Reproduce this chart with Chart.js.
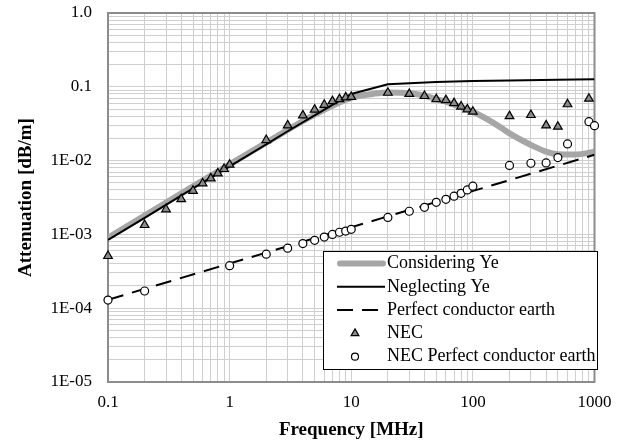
<!DOCTYPE html>
<html>
<head>
<meta charset="utf-8">
<title>Attenuation vs frequency</title>
<script src="https://cdn.jsdelivr.net/npm/chart.js@4.4.0/dist/chart.umd.min.js"></script>
<style>
  body { margin: 0; background: #fff; }
  #wrap { width: 626px; height: 445px; }
</style>
</head>
<body>
<div id="wrap"><canvas id="attChart" width="626" height="445"></canvas></div>
<script>
// data

// Considering Ye (thick gray line)
var consFreq = [0.1, 0.2, 0.5, 1, 2, 5, 10, 15, 20, 30, 40, 50, 60, 80, 100, 150, 200, 300, 400, 500, 700, 1000];
var consVal = [9.0e-4, 1.8e-3, 4.5e-3, 8.9e-3, 1.75e-2, 4.2e-2, 0.071, 0.08, 0.084, 0.082, 0.076, 0.068, 0.063, 0.053, 0.046, 0.032, 0.0234, 0.0163, 0.0132, 0.0122, 0.0121, 0.0132];

// Neglecting Ye (black line)
var negFreq = [0.1, 0.2, 0.5, 1, 2, 3, 5, 7, 10, 20, 30, 50, 100, 200, 500, 1000];
var negVal = [8.4e-4, 1.68e-3, 4.2e-3, 8.35e-3, 1.66e-2, 2.5e-2, 4.1e-2, 5.7e-2, 0.08, 0.108, 0.112, 0.116, 0.12, 0.122, 0.125, 0.127];

// Perfect conductor earth (dashed)
var pecFreq = [0.1, 1000];
var pecVal = [1.3e-4, 1.2e-2];

// NEC (triangles)
var necFreq = [0.1, 0.2, 0.3, 0.4, 0.5, 0.6, 0.7, 0.8, 0.9, 1, 2, 3, 4, 5, 6, 7, 8, 9, 10,
  20, 30, 40, 50, 60, 70, 80, 90, 100, 200, 300, 400, 500, 600, 900];
var necVal = [5.1e-4, 1.34e-3, 2.19e-3, 3.0e-3, 3.9e-3, 4.9e-3, 5.75e-3, 6.7e-3, 7.7e-3, 8.8e-3, 0.019, 0.030, 0.041, 0.049, 0.057, 0.064, 0.068, 0.072, 0.073,
  0.083, 0.080, 0.075, 0.068, 0.066, 0.060, 0.054, 0.0495, 0.046, 0.040, 0.0415, 0.030, 0.0288, 0.058, 0.069];

// NEC Perfect conductor earth (circles)
var necPecFreq = [0.1, 0.2, 1, 2, 3, 4, 5, 6, 7, 8, 9, 10, 20, 30, 40, 50, 60, 70, 80, 90, 100, 200, 300, 400, 500, 600, 900, 1000];
var necPecVal = [1.29e-4, 1.71e-4, 3.77e-4, 5.4e-4, 6.5e-4, 7.5e-4, 8.3e-4, 9.2e-4, 1.0e-3, 1.07e-3, 1.11e-3, 1.17e-3,
  1.7e-3, 2.06e-3, 2.33e-3, 2.72e-3, 2.99e-3, 3.3e-3, 3.6e-3, 4.0e-3, 4.5e-3, 8.6e-3, 9.2e-3, 9.3e-3, 0.011, 0.0168, 0.0337, 0.0297];

var seriesNames = ["Considering Ye", "Neglecting Ye", "Perfect conductor earth", "NEC", "NEC Perfect conductor earth"];

// ticks
var xTicks = [0.1, 1, 10, 100, 1000];
var xTickLabels = ["0.1", "1", "10", "100", "1000"];
var yTicks = [1e-5, 1e-4, 1e-3, 1e-2, 0.1, 1];
var yTickLabels = ["1E-05", "1E-04", "1E-03", "1E-02", "0.1", "1.0"];

var FONT = "'Liberation Serif', 'Times New Roman', serif";

function toPoints(xs, ys) {
  var pts = [];
  for (var i = 0; i < xs.length; i++) {
    pts.push({ x: xs[i], y: ys[i] });
  }
  return pts;
}

// all 1..9 x 10^n positions between first and last major tick, for the grid
function gridValues(majors) {
  var out = [];
  for (var i = 0; i < majors.length - 1; i++) {
    for (var k = 1; k <= 9; k++) {
      out.push({ value: majors[i] * k });
    }
  }
  out.push({ value: majors[majors.length - 1] });
  return out;
}

function labelFor(majors, labels, v) {
  for (var i = 0; i < majors.length; i++) {
    if (Math.abs(v - majors[i]) / majors[i] < 1e-6) return labels[i];
  }
  return "";
}

// plot frame (top/right sides too) and the boxed legend in the lower right
var framePlugin = {
  id: "frame",
  beforeDatasetsDraw: function (chart) {
    var ctx = chart.ctx, a = chart.chartArea;
    ctx.save();
    ctx.strokeStyle = "#8c8c8c";
    ctx.lineWidth = 2;
    ctx.strokeRect(a.left, a.top, a.right - a.left, a.bottom - a.top);
    ctx.restore();
  },
  afterDraw: function (chart) {
    var ctx = chart.ctx;
    var bx = 323, by = 251, bw = 274, bh = 118;
    ctx.save();
    ctx.fillStyle = "#fff";
    ctx.fillRect(bx, by, bw, bh);
    ctx.strokeStyle = "#000";
    ctx.lineWidth = 1;
    ctx.strokeRect(bx + 0.5, by + 0.5, bw, bh);

    ctx.font = "18px " + FONT;
    ctx.textBaseline = "middle";
    for (var i = 0; i < seriesNames.length; i++) {
      var y = by + 12.5 + i * 23.3;
      var ds = chart.data.datasets[i];
      if (i < 3) {
        ctx.beginPath();
        ctx.strokeStyle = ds.borderColor;
        ctx.lineWidth = ds.borderWidth;
        ctx.lineCap = i === 0 ? "round" : "butt";
        ctx.setLineDash(ds.borderDash || []);
        ctx.moveTo(i === 0 ? 340 : 337, y);
        ctx.lineTo(i === 0 ? 383 : 385, y);
        ctx.stroke();
        ctx.setLineDash([]);
      } else {
        var r = ds.pointRadius - 0.5;
        ctx.fillStyle = ds.backgroundColor;
        ctx.strokeStyle = ds.borderColor;
        ctx.lineWidth = ds.borderWidth;
        ctx.beginPath();
        if (ds.pointStyle === "triangle") {
          ctx.moveTo(355, y - r);
          ctx.lineTo(355 + r * 0.866, y + r / 2);
          ctx.lineTo(355 - r * 0.866, y + r / 2);
          ctx.closePath();
        } else {
          ctx.arc(355, y, r, 0, Math.PI * 2);
        }
        ctx.fill();
        ctx.stroke();
      }
      ctx.fillStyle = "#000";
      ctx.fillText(seriesNames[i], 387, y);
    }
    ctx.restore();
  }
};

var attChart = new Chart("attChart", {
  type: "scatter",
  data: {
    datasets: [{
      label: seriesNames[0],
      data: toPoints(consFreq, consVal),
      showLine: true,
      borderColor: "#a6a6a6",
      borderWidth: 6,
      pointRadius: 0,
      cubicInterpolationMode: "monotone",
      order: 5
    }, {
      label: seriesNames[1],
      data: toPoints(negFreq, negVal),
      showLine: true,
      borderColor: "#000",
      borderWidth: 2,
      pointRadius: 0,
      order: 4
    }, {
      label: seriesNames[2],
      data: toPoints(pecFreq, pecVal),
      showLine: true,
      borderColor: "#000",
      borderWidth: 2,
      borderDash: [16, 9],
      pointRadius: 0,
      order: 3
    }, {
      label: seriesNames[3],
      data: toPoints(necFreq, necVal),
      pointStyle: "triangle",
      pointRadius: 5,
      backgroundColor: "#8a8a8a",
      borderColor: "#000",
      borderWidth: 1.2,
      clip: false,
      order: 2
    }, {
      label: seriesNames[4],
      data: toPoints(necPecFreq, necPecVal),
      pointStyle: "circle",
      pointRadius: 4,
      backgroundColor: "#fff",
      borderColor: "#000",
      borderWidth: 1.2,
      clip: false,
      order: 1
    }]
  },
  options: {
    responsive: false,
    animation: false,
    layout: { padding: { left: 0, right: 31.5, top: 13, bottom: 0 } },
    plugins: {
      legend: { display: false },
      tooltip: { enabled: false }
    },
    scales: {
      x: {
        type: "logarithmic",
        min: 0.1,
        max: 1000,
        afterBuildTicks: function (scale) { scale.ticks = gridValues(xTicks); },
        afterFit: function (scale) {
          scale.height = 63;
          scale.paddingLeft = 0;
          scale.paddingRight = 0;
        },
        grid: { color: "#cfcfcf", lineWidth: 1, drawTicks: false },
        border: { color: "#8c8c8c", width: 2 },
        ticks: {
          autoSkip: false,
          maxRotation: 0,
          padding: 10,
          color: "#000",
          font: { family: FONT, size: 17 },
          callback: function (v) { return labelFor(xTicks, xTickLabels, v); }
        },
        title: {
          display: true,
          text: "Frequency [MHz]",
          color: "#000",
          font: { family: FONT, size: 19, weight: "bold" },
          padding: { top: 0, bottom: 4 }
        }
      },
      y: {
        type: "logarithmic",
        min: 1e-5,
        max: 1,
        afterBuildTicks: function (scale) { scale.ticks = gridValues(yTicks); },
        afterFit: function (scale) {
          scale.width = 108;
          scale.paddingTop = 0;
          scale.paddingBottom = 0;
        },
        grid: { color: "#cfcfcf", lineWidth: 1, drawTicks: false },
        border: { color: "#8c8c8c", width: 2 },
        ticks: {
          autoSkip: false,
          padding: 16,
          color: "#000",
          font: { family: FONT, size: 17 },
          callback: function (v) { return labelFor(yTicks, yTickLabels, v); }
        },
        title: {
          display: true,
          text: "Attenuation [dB/m]",
          color: "#000",
          font: { family: FONT, size: 19, weight: "bold" },
          padding: { top: 15, bottom: 0 }
        }
      }
    }
  },
  plugins: [framePlugin]
});
</script>
</body>
</html>
